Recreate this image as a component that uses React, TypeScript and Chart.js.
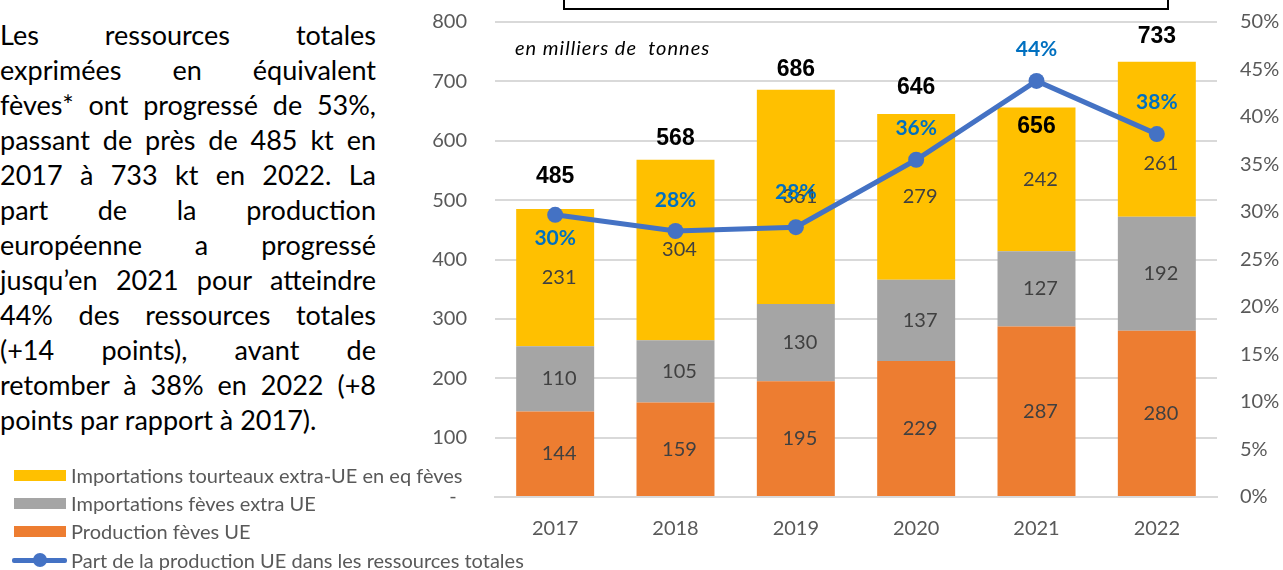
import React, { useEffect, useRef } from "react";
import { Chart, registerables } from "chart.js";

Chart.register(...registerables);

// ---- data ----
const years = ["2017", "2018", "2019", "2020", "2021", "2022"];
const productionUE = [144, 159, 195, 229, 287, 280];
const importFeves = [110, 105, 130, 137, 127, 192];
const importTourteaux = [231, 304, 361, 279, 242, 261];
const totals = [485, 568, 686, 646, 656, 733];
const partUE = [29.7, 28.0, 28.4, 35.5, 43.8, 38.2];
const partLabels = ["30%", "28%", "28%", "36%", "44%", "38%"];

const seriesNames = [
  "Importations tourteaux extra-UE en eq fèves",
  "Importations fèves extra UE",
  "Production fèves UE",
  "Part de la production UE dans les ressources totales",
];

const paragraphLines = [
  "Les ressources totales",
  "exprimées en équivalent",
  "fèves* ont progressé de 53%,",
  "passant de près de 485 kt en",
  "2017 à 733 kt en 2022. La",
  "part de la production",
  "européenne a progressé",
  "jusqu’en 2021 pour atteindre",
  "44% des ressources totales",
  "(+14 points), avant de",
  "retomber à 38% en 2022 (+8",
  "points par rapport à 2017).",
];

// ---- label placement (layout, not data) ----
const totalLabelDy = [-32, -21, -20, -26, 19, -25];
const partLabelDy = [23, -31, -35, -32, -32, -32];
const tourteauxLabelDy = [0, 0, 0, 0, 0, 24];

const COLORS = {
  yellow: "#FFC000",
  grey: "#A5A5A5",
  orange: "#ED7D31",
  blue: "#4472C4",
  pctText: "#0070C0",
  axis: "#595959",
  grid: "#D9D9D9",
  seg: "#404040",
};

const CANVAS_TOP = -18;
const CANVAS_H = 588;

const labelsPlugin = {
  id: "valueLabels",
  afterDatasetsDraw(chart: any) {
    const ctx = chart.ctx;
    ctx.save();
    ctx.textAlign = "center";
    ctx.textBaseline = "middle";
    [0, 1, 2].forEach((di) => {
      const meta = chart.getDatasetMeta(di);
      const ds = chart.data.datasets[di];
      meta.data.forEach((el: any, i: number) => {
        const p = el.getProps(["x", "y", "base"], true);
        ctx.font = "20px Lato";
        ctx.fillStyle = COLORS.seg;
        const dy = di === 2 ? tourteauxLabelDy[i] : 0;
        ctx.fillText(String(ds.data[i]), p.x + 4, (p.y + p.base) / 2 + dy);
      });
    });
    const topMeta = chart.getDatasetMeta(2);
    topMeta.data.forEach((el: any, i: number) => {
      const p = el.getProps(["x", "y"], true);
      ctx.font = "bold 23px 'Liberation Sans'";
      ctx.fillStyle = "#000000";
      ctx.fillText(String(totals[i]), p.x, p.y + totalLabelDy[i]);
    });
    const lineMeta = chart.getDatasetMeta(3);
    lineMeta.data.forEach((el: any, i: number) => {
      const p = el.getProps(["x", "y"], true);
      ctx.font = "bold 21px Lato";
      ctx.fillStyle = COLORS.pctText;
      ctx.fillText(partLabels[i], p.x, p.y + partLabelDy[i]);
    });
    ctx.restore();
  },
};

function ChartCanvas() {
  const ref = useRef<HTMLCanvasElement | null>(null);
  useEffect(() => {
    if (!ref.current) return;
    const tickFont = { family: "Lato", size: 20 };
    const chart = new Chart(ref.current, {
      type: "bar",
      data: {
        labels: years,
        datasets: [
          {
            type: "bar",
            label: seriesNames[2],
            data: productionUE,
            backgroundColor: COLORS.orange,
            order: 1,
          },
          {
            type: "bar",
            label: seriesNames[1],
            data: importFeves,
            backgroundColor: COLORS.grey,
            order: 1,
          },
          {
            type: "bar",
            label: seriesNames[0],
            data: importTourteaux,
            backgroundColor: COLORS.yellow,
            order: 1,
          },
          {
            type: "line",
            label: seriesNames[3],
            data: partUE,
            yAxisID: "y1",
            borderColor: COLORS.blue,
            backgroundColor: COLORS.blue,
            borderWidth: 5,
            pointRadius: 8,
            pointBorderWidth: 0,
            pointBackgroundColor: COLORS.blue,
            tension: 0,
            order: 0,
          } as any,
        ],
      },
      options: {
        responsive: false,
        animation: false,
        devicePixelRatio: 1,
        layout: { padding: { top: 4, left: 0, right: 0, bottom: 0 } },
        datasets: { bar: { barPercentage: 0.648, categoryPercentage: 1 } },
        plugins: {
          legend: { display: false },
          title: { display: false },
          tooltip: { enabled: false },
        },
        scales: {
          x: {
            stacked: true,
            grid: { display: false, drawTicks: false },
            border: { color: COLORS.grid, width: 2 },
            ticks: { color: COLORS.axis, font: tickFont, padding: 20 },
            afterFit(s: any) {
              s.height = 73;
            },
          },
          y: {
            stacked: true,
            position: "left",
            min: 0,
            max: 800,
            ticks: {
              stepSize: 100,
              padding: 28,
              color: COLORS.axis,
              font: tickFont,
              callback: (v: any) => (v === 0 ? "-  " : String(v)),
            },
            grid: { color: COLORS.grid, lineWidth: 2, drawTicks: false },
            border: { display: false },
            afterFit(s: any) {
              s.width = 95;
            },
          },
          y1: {
            position: "right",
            min: 0,
            max: 50,
            ticks: {
              stepSize: 5,
              padding: 23,
              color: COLORS.axis,
              font: tickFont,
              callback: (v: any) => v + "%",
            },
            grid: { display: false, drawTicks: false },
            border: { display: false },
            afterFit(s: any) {
              s.width = 66;
            },
          },
        },
      } as any,
      plugins: [labelsPlugin],
    });
    return () => chart.destroy();
  }, []);
  return (
    <canvas
      ref={ref}
      width={883}
      height={CANVAS_H}
      style={{ position: "absolute", left: 400, top: CANVAS_TOP, width: 883, height: CANVAS_H }}
    />
  );
}

export default function App() {
  const lineH = 35;
  const legendItems = [
    { name: seriesNames[0], color: COLORS.yellow, cy: 475, kind: "bar" },
    { name: seriesNames[1], color: COLORS.grey, cy: 503, kind: "bar" },
    { name: seriesNames[2], color: COLORS.orange, cy: 531, kind: "bar" },
    { name: seriesNames[3], color: COLORS.blue, cy: 560, kind: "line" },
  ];
  return (
    <div
      style={{
        position: "absolute",
        left: 0,
        top: 0,
        width: 1283,
        height: 570,
        overflow: "hidden",
        background: "#ffffff",
        fontFamily: "Lato, sans-serif",
      }}
    >
      <ChartCanvas />
      <div
        style={{
          position: "absolute",
          left: 563,
          top: -12,
          width: 606,
          height: 22,
          boxSizing: "border-box",
          border: "2px solid #000",
          background: "#fff",
        }}
      />
      <div
        style={{
          position: "absolute",
          left: 515,
          top: 47 - 12,
          lineHeight: "24px",
          fontSize: 20,
          letterSpacing: "1px",
          fontStyle: "italic",
          color: "#000",
          whiteSpace: "pre",
        }}
      >
        {"en milliers de  tonnes"}
      </div>
      {paragraphLines.map((t, i) => (
        <div
          key={i}
          style={{
            position: "absolute",
            left: 0,
            top: 34 + i * lineH - lineH / 2,
            width: 376,
            height: lineH,
            lineHeight: lineH + "px",
            fontSize: 27,
            color: "#000",
            textAlign: i === paragraphLines.length - 1 ? "left" : "justify",
            textAlignLast: i === paragraphLines.length - 1 ? "left" : "justify",
            whiteSpace: "normal",
          } as any}
        >
          {t}
        </div>
      ))}
      {legendItems.map((it, i) => (
        <React.Fragment key={i}>
          {it.kind === "bar" ? (
            <div
              style={{
                position: "absolute",
                left: 14,
                top: it.cy - 5.5,
                width: 52,
                height: 11,
                background: it.color,
              }}
            />
          ) : (
            <>
              <div
                style={{
                  position: "absolute",
                  left: 12,
                  top: it.cy - 2.5,
                  width: 55,
                  height: 5,
                  background: it.color,
                  borderRadius: 2,
                }}
              />
              <div
                style={{
                  position: "absolute",
                  left: 33,
                  top: it.cy - 7,
                  width: 14,
                  height: 14,
                  borderRadius: 7,
                  background: it.color,
                }}
              />
            </>
          )}
          <div
            style={{
              position: "absolute",
              left: 71,
              top: it.cy - 12,
              lineHeight: "24px",
              fontSize: 20,
              color: COLORS.axis,
              whiteSpace: "nowrap",
            }}
          >
            {it.name}
          </div>
        </React.Fragment>
      ))}
    </div>
  );
}
